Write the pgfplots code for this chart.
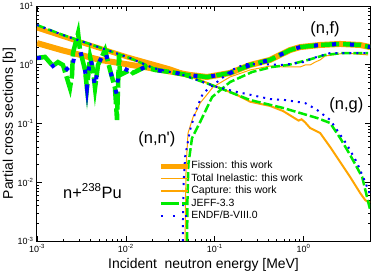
\documentclass[border=0pt]{standalone}
\usepackage{fontspec}
\setmainfont{Liberation Sans}
\usepackage{pgfplots}
\pgfplotsset{compat=1.18}
\definecolor{myorange}{RGB}{255,165,0}
\definecolor{mygreen}{RGB}{0,235,0}
\definecolor{myblue}{RGB}{0,0,255}
\begin{document}
\begin{tikzpicture}
\begin{axis}[
  scale only axis, width=333bp, height=235bp,
  xmode=log, ymode=log,
  xmin=1e-3, xmax=5.6, ymin=1e-3, ymax=10,
  axis line style={line width=1bp},
  tick align=inside,
  major tick length=5bp, minor tick length=2.5bp,
  every tick/.style={black, line width=0.6bp},
  xtick={1e-3,1e-2,1e-1,1},
  xticklabels={10\textsuperscript{-3},10\textsuperscript{-2},10\textsuperscript{-1},10\textsuperscript{0}},
  ytick={1e-3,1e-2,1e-1,1,10},
  yticklabels={10\textsuperscript{-3},10\textsuperscript{-2},10\textsuperscript{-1},10\textsuperscript{0},10\textsuperscript{1}},
  tick label style={font=\fontsize{9}{10}\selectfont},
  xlabel={Incident\ \ neutron energy [MeV]},
  ylabel={Partial cross sections [b]},
  label style={font=\fontsize{14}{16}\selectfont},
  xlabel style={at={(axis description cs:0.5,0)}, anchor=base, yshift=-27bp},
  ylabel style={at={(axis description cs:0,0.5)}, anchor=base, yshift=24bp},
  legend style={at={(rel axis cs:0.355,0.355)}, anchor=north west, draw=none, fill=none,
    font=\fontsize{10.5}{12}\selectfont, row sep=0bp, column sep=0bp,
    nodes={inner sep=1bp, text height=8bp, text depth=2.5bp}},
  legend cell align=left,
  legend image code/.code={\draw[#1] (0bp,0bp) -- (27bp,0bp);},
  line join=miter,
]
\coordinate (pa) at (rel axis cs:0,0);
\coordinate (pb) at (rel axis cs:1,1);
% this work
\addplot[myorange, line width=6bp, forget plot] coordinates {
(0.001,2.34)(0.00196,1.75)(0.00512,1.21)(0.01875,0.881)(0.05284,0.670)(0.08204,0.619)
(0.149,0.725)(0.2504,0.991)(0.4207,1.21)(0.5445,1.47)(0.7063,1.78)(0.9162,2.00)
(1.538,2.17)(2.585,2.26)(4.339,2.17)(5.624,2.00)};
\addplot[myorange, line width=5bp, forget plot] coordinates {
(0.001,4.23)(0.00305,2.44)(0.01032,1.36)(0.03148,0.847)(0.05,0.66)};
\addplot[myorange, line width=2bp, forget plot] coordinates {
(0.03148,0.847)(0.06855,0.550)(0.1064,0.418)(0.1698,0.318)(0.2504,0.235)(0.4207,0.199)
(0.5888,0.163)(0.88,0.112)(0.95,0.118)(1.04,0.105)(1.186,0.0838)(1.538,0.0689)
(1.994,0.0398)(2.585,0.0221)(3.347,0.0123)(4.339,0.00656)(4.939,0.00499)(5.337,0.00461)(5.624,0.00461)};
\addplot[myorange, line width=1bp, forget plot] coordinates {
(0.04645,0.001)(0.04699,0.0050)(0.04766,0.0182)(0.05012,0.0689)(0.05715,0.129)(0.06335,0.17)
(0.06855,0.223)(0.07798,0.283)(0.09594,0.418)(0.149,0.62)(0.2504,0.815)(0.4207,0.953)
(0.6202,0.916)(0.9162,0.916)(1.042,0.991)(1.186,0.991)(1.352,1.11)(1.538,1.21)(1.750,1.41)
(2.940,1.58)(5.337,1.47)};
% JEFF-3.3
\addplot[mygreen, line width=4.5bp, dash pattern=on 18bp off 4bp, forget plot] coordinates {
(0.00100,1.30)(0.00123,1.36)(0.00151,0.953)(0.00172,1.11)(0.00196,0.991)(0.00235,0.402)
(0.00248,0.670)(0.00254,1.58)(0.00290,3.47)(0.00305,1.78)(0.00347,0.815)(0.00365,0.402)
(0.00396,1.36)(0.00427,0.815)(0.00450,0.402)(0.00486,0.991)(0.00583,1.78)(0.00664,0.815)
(0.00755,0.402)(0.00796,0.115)(0.00838,1.47)(0.00861,0.670)(0.01115,0.815)(0.01205,0.725)
(0.01644,0.916)(0.02134,0.815)(0.03148,0.754)(0.04888,0.670)(0.08204,0.619)(0.149,0.725)
(0.2504,0.991)(0.4207,1.21)(0.5445,1.47)(0.7063,1.78)(0.9162,2.00)(1.538,2.17)(2.585,2.26)
(4.339,2.17)(5.624,2.00)};
\addplot[mygreen, line width=2.5bp, dash pattern=on 9bp off 3bp, forget plot] coordinates {
(0.001,4.75)(0.0014,3.90)(0.00196,3.21)(0.00365,2.34)(0.00614,1.78)(0.01115,1.30)(0.02025,0.881)
(0.04406,0.670)(0.1064,0.418)(0.2504,0.251)(0.5888,0.184)(1.423,0.124)(1.994,0.102)
(2.585,0.0566)(3.347,0.0291)(4.571,0.0123)(5.624,0.00337)};
\addplot[mygreen, line width=2.5bp, dash pattern=on 9bp off 3bp, forget plot] coordinates {
(0.04888,0.001)(0.0494,0.005)(0.0505,0.02)(0.05559,0.0566)(0.06855,0.106)(0.09354,0.282)
(0.149,0.508)(0.2641,0.754)(0.443,0.916)(0.67,0.991)(1.127,1.21)(1.75,1.47)(2.723,1.58)(5.337,1.58)};
% ENDF/B-VIII.0
\addplot[myblue, line width=4bp, dash pattern=on 4bp off 14bp, forget plot] coordinates {
(0.00100,1.30)(0.00123,1.36)(0.00151,0.953)(0.00172,1.11)(0.00196,0.991)(0.00241,0.725)
(0.00268,1.58)(0.00305,1.78)(0.00347,0.815)(0.00365,0.402)(0.00396,1.36)(0.00427,0.815)
(0.00450,0.402)(0.00486,0.991)(0.00583,1.78)(0.00664,0.815)(0.00755,0.402)(0.00796,0.305)
(0.00817,0.670)(0.00929,0.881)(0.01205,0.725)(0.01644,0.916)(0.02134,0.815)(0.03148,0.754)
(0.04888,0.670)(0.08204,0.619)(0.149,0.725)(0.2504,0.991)(0.4207,1.21)(0.5445,1.47)
(0.7063,1.78)(0.9162,2.00)(1.538,2.17)(2.585,2.26)(4.339,2.17)(5.624,2.00)};
\addplot[myblue, line width=2bp, dash pattern=on 2bp off 5bp, forget plot] coordinates {
(0.001,4.75)(0.0014,3.90)(0.00196,3.21)(0.00365,2.34)(0.00614,1.78)(0.01115,1.30)(0.02025,0.881)
(0.04406,0.670)(0.1064,0.418)(0.1786,0.344)(0.4207,0.261)(0.6202,0.251)(1.042,0.223)
(1.423,0.170)(1.994,0.115)(3.099,0.0431)(4.016,0.0213)(4.939,0.0101)(5.926,0.00499)};
\addplot[myblue, line width=2bp, dash pattern=on 2bp off 5bp, forget plot] coordinates {
(0.0438,0.001)(0.0441,0.0038)(0.0447,0.0097)(0.04645,0.0269)(0.05284,0.0775)(0.06176,0.170)
(0.07396,0.330)(0.1064,0.508)(0.157,0.815)(0.2198,1.03)(0.3246,1.03)(0.5888,0.991)
(0.9886,1.11)(1.283,1.30)(1.994,1.58)(3.347,1.58)(5.624,1.58)};
% legend
\addlegendimage{myorange, line width=5bp}
\addlegendentry{Fission: this work}
\addlegendimage{myorange, line width=1bp}
\addlegendentry{Total Inelastic: this work}
\addlegendimage{myorange, line width=2bp}
\addlegendentry{Capture: this work}
\addlegendimage{mygreen, line width=2.5bp, dash pattern=on 18bp off 3bp}
\addlegendentry{JEFF-3.3}
\addlegendimage{myblue, line width=2bp, dash pattern=on 2bp off 10bp}
\addlegendentry{ENDF/B-VIII.0}
\node[font=\fontsize{16.5}{18}\selectfont] at (rel axis cs:0.865,0.9) {(n,f)};
\node[font=\fontsize{16.5}{18}\selectfont] at (rel axis cs:0.929,0.579) {(n,g)};
\node[font=\fontsize{16.5}{18}\selectfont] at (rel axis cs:0.36,0.434) {(n,n\textquotesingle)};
\node[font=\fontsize{16.5}{18}\selectfont, anchor=base west, inner sep=0pt] at (rel axis cs:0.078,0.183) {n+\textsuperscript{238}Pu};
\end{axis}
\pgfresetboundingbox
\path[use as bounding box] ([shift={(-37bp,-32bp)}]pa) rectangle ([shift={(5bp,6bp)}]pb);
\end{tikzpicture}
\end{document}
